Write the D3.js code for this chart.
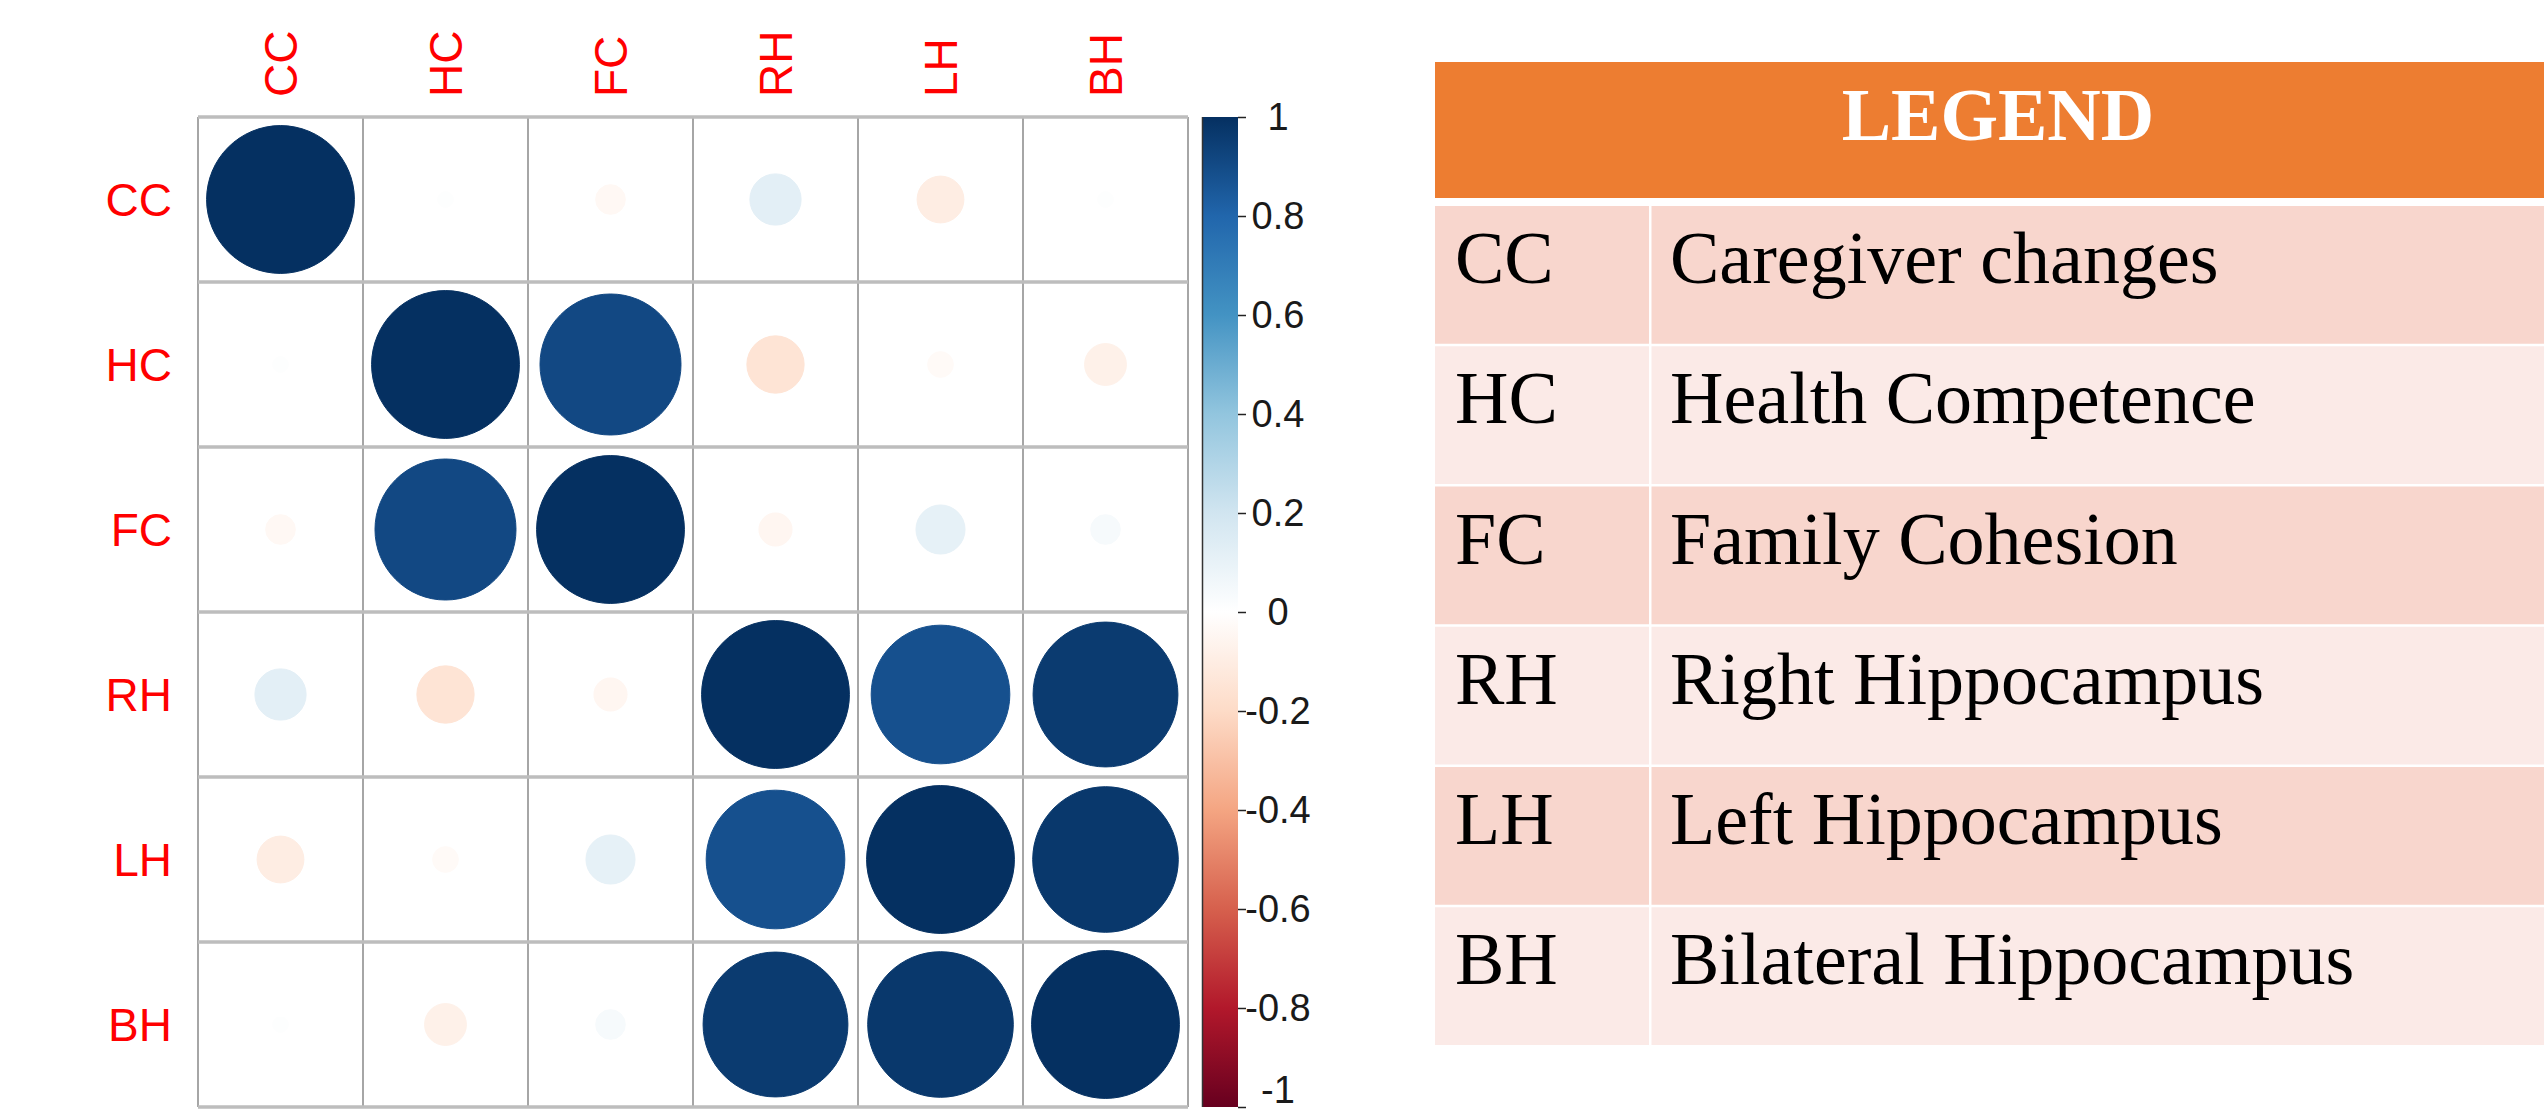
<!DOCTYPE html>
<html>
<head>
<meta charset="utf-8">
<script src="https://cdn.jsdelivr.net/npm/d3@7"></script>
<style>
  body { margin: 0; background: #fff; }
  svg { display: block; }
</style>
</head>
<body>
<div id="chart"></div>
<script>

// variables, in the order of the matrix
var vars = ['CC', 'HC', 'FC', 'RH', 'LH', 'BH'];

// correlation rows
var rowCC = [ 1.00,  0.01, -0.04,  0.12, -0.10,  0.01];
var rowHC = [ 0.01,  1.00,  0.91, -0.15, -0.03, -0.08];
var rowFC = [-0.04,  0.91,  1.00, -0.05,  0.11,  0.04];
var rowRH = [ 0.12, -0.15, -0.05,  1.00,  0.88,  0.96];
var rowLH = [-0.10, -0.03,  0.11,  0.88,  1.00,  0.97];
var rowBH = [ 0.01, -0.08,  0.04,  0.96,  0.97,  1.00];
var corr = [rowCC, rowHC, rowFC, rowRH, rowLH, rowBH];

// colour bar ticks
var barTicks = [1, 0.8, 0.6, 0.4, 0.2, 0, -0.2, -0.4, -0.6, -0.8, -1];
var barLabels = ['1', '0.8', '0.6', '0.4', '0.2', '0', '-0.2', '-0.4', '-0.6', '-0.8', '-1'];

// RdBu ramp used by corrplot
var rampColors = ['#67001F', '#B2182B', '#D6604D', '#F4A582', '#FDDBC7', '#FFFFFF',
                  '#D1E5F0', '#92C5DE', '#4393C3', '#2166AC', '#053061'];

// legend table
var legendTitle = 'LEGEND';
var legendNames = ['Caregiver changes', 'Health Competence', 'Family Cohesion',
                   'Right Hippocampus', 'Left Hippocampus', 'Bilateral Hippocampus'];

var W = 2544, H = 1117;

var svg = d3.select('#chart').append('svg')
  .attr('width', W)
  .attr('height', H);

/*---------- MATRIX ----------*/

var x = d3.scaleBand().domain(vars).range([198, 1188]);
var y = d3.scaleBand().domain(vars).range([117, 1107]);

var color = d3.scaleLinear()
  .domain(d3.range(rampColors.length).map(function(i){ return -1 + 2 * i / (rampColors.length - 1); }))
  .range(rampColors);

var radius = d3.scaleSqrt()
  .domain([0, 1])
  .range([0, x.bandwidth() * 0.448]);

var cells = [];
corr.forEach(function(row, ri){
  row.forEach(function(v, ci){
    cells.push({row: vars[ri], col: vars[ci], value: v});
  });
});

var matrix = svg.append('g');

// cell background
matrix.selectAll('rect.cell')
  .data(cells)
  .enter().append('rect')
    .attr('class', 'cell')
    .attr('x', function(d){ return x(d.col); })
    .attr('y', function(d){ return y(d.row); })
    .attr('width', x.bandwidth())
    .attr('height', y.bandwidth())
    .style('fill', '#fff');

matrix.selectAll('circle')
  .data(cells)
  .enter().append('circle')
    .attr('cx', function(d){ return x(d.col) + x.bandwidth() / 2; })
    .attr('cy', function(d){ return y(d.row) + y.bandwidth() / 2; })
    .attr('r', function(d){ return radius(Math.abs(d.value)); })
    .style('fill', function(d){ return color(d.value); })
    .style('stroke', function(d){ return color(d.value); })
    .style('stroke-width', 1);

// grid lines
var xEdges = vars.map(function(v){ return x(v); }).concat([x.range()[1]]);
var yEdges = vars.map(function(v){ return y(v); }).concat([y.range()[1]]);

matrix.selectAll('line.v')
  .data(xEdges)
  .enter().append('line')
    .attr('x1', function(d){ return d; })
    .attr('x2', function(d){ return d; })
    .attr('y1', y.range()[0])
    .attr('y2', y.range()[1])
    .style('stroke', '#a6a6a6')
    .style('stroke-width', 2);

matrix.selectAll('line.h')
  .data(yEdges)
  .enter().append('line')
    .attr('x1', x.range()[0])
    .attr('x2', x.range()[1])
    .attr('y1', function(d){ return d; })
    .attr('y2', function(d){ return d; })
    .style('stroke', '#bdbdbd')
    .style('stroke-width', 3.5);

// row labels
svg.append('g').selectAll('text')
  .data(vars)
  .enter().append('text')
    .attr('x', 172)
    .attr('y', function(d){ return y(d) + y.bandwidth() / 2; })
    .attr('dy', '0.36em')
    .attr('text-anchor', 'end')
    .style('font-family', '"Liberation Sans", Arial, sans-serif')
    .style('font-size', '46px')
    .style('fill', '#ff0000')
    .text(function(d){ return d; });

// column labels (rotated)
svg.append('g').selectAll('text')
  .data(vars)
  .enter().append('text')
    .attr('transform', function(d){
      return 'translate(' + (x(d) + x.bandwidth() / 2) + ',97) rotate(-90)';
    })
    .attr('dy', '0.36em')
    .attr('text-anchor', 'start')
    .style('font-family', '"Liberation Sans", Arial, sans-serif')
    .style('font-size', '46px')
    .style('fill', '#ff0000')
    .text(function(d){ return d; });

/*---------- COLOUR BAR ----------*/

var barX = 1202, barW = 36;
var barScale = d3.scaleLinear().domain([-1, 1]).range([y.range()[1], y.range()[0]]);

var grad = svg.append('defs').append('linearGradient')
  .attr('id', 'rdbu')
  .attr('x1', 0).attr('y1', 1)
  .attr('x2', 0).attr('y2', 0);

grad.selectAll('stop')
  .data(rampColors)
  .enter().append('stop')
    .attr('offset', function(d, i){ return (i / (rampColors.length - 1) * 100) + '%'; })
    .attr('stop-color', function(d){ return d; });

svg.append('rect')
  .attr('x', barX)
  .attr('y', barScale(1))
  .attr('width', barW)
  .attr('height', barScale(-1) - barScale(1))
  .style('fill', 'url(#rdbu)');

svg.append('line')
  .attr('x1', barX + 0.5).attr('x2', barX + 0.5)
  .attr('y1', barScale(1)).attr('y2', barScale(-1))
  .style('stroke', '#333')
  .style('stroke-width', 1.5);

var barAxis = svg.append('g')
  .attr('transform', 'translate(' + (barX + barW) + ',0)')
  .call(d3.axisRight(barScale)
    .tickValues(barTicks)
    .tickSize(8)
    .tickFormat(function(d, i){ return barLabels[i]; }));

barAxis.select('.domain').remove();
barAxis.selectAll('.tick line').style('stroke', '#222').style('stroke-width', 1.5);
barAxis.selectAll('.tick text')
  .attr('x', 40)
  .attr('text-anchor', 'middle')
  .style('font-family', '"Liberation Sans", Arial, sans-serif')
  .style('font-size', '38px')
  .style('fill', '#1a1a1a');

// bottom label sits on the page edge, lift it so it stays inside
barAxis.selectAll('.tick text')
  .filter(function(d){ return d === -1; })
  .attr('y', -17);

/*---------- LEGEND TABLE ----------*/

var tableLeft = 1435, tableRight = 2561, codeRight = 1649;

var legend = svg.append('g');

legend.append('rect')
  .attr('x', tableLeft)
  .attr('y', 62)
  .attr('width', tableRight - tableLeft)
  .attr('height', 136)
  .style('fill', '#ED7D31');

legend.append('text')
  .attr('x', (tableLeft + tableRight) / 2)
  .attr('y', 140)
  .attr('text-anchor', 'middle')
  .style('font-family', '"Liberation Serif", "Times New Roman", serif')
  .style('font-weight', 'bold')
  .style('font-size', '74px')
  .style('fill', '#fff')
  .text(legendTitle);

var rowBand = d3.scaleBand()
  .domain(vars)
  .range([206, 206 + 6 * 140.25]);

var rows = legend.selectAll('g.row')
  .data(vars)
  .enter().append('g')
    .attr('transform', function(d){ return 'translate(0,' + rowBand(d) + ')'; });

rows.append('rect')
  .attr('x', tableLeft)
  .attr('width', codeRight - tableLeft)
  .attr('height', rowBand.bandwidth() - 2.5)
  .style('fill', function(d, i){ return i % 2 ? '#FBEAE7' : '#F8D6CD'; });

rows.append('rect')
  .attr('x', codeRight + 2.5)
  .attr('width', tableRight - codeRight - 2.5)
  .attr('height', rowBand.bandwidth() - 2.5)
  .style('fill', function(d, i){ return i % 2 ? '#FBEAE7' : '#F8D6CD'; });

rows.append('text')
  .attr('x', 1455)
  .attr('y', 77)
  .style('font-family', '"Liberation Serif", "Times New Roman", serif')
  .style('font-size', '74px')
  .style('fill', '#000')
  .text(function(d){ return d; });

rows.append('text')
  .attr('x', 1670)
  .attr('y', 77)
  .style('font-family', '"Liberation Serif", "Times New Roman", serif')
  .style('font-size', '74px')
  .style('fill', '#000')
  .text(function(d, i){ return legendNames[i]; });

</script>
</body>
</html>
